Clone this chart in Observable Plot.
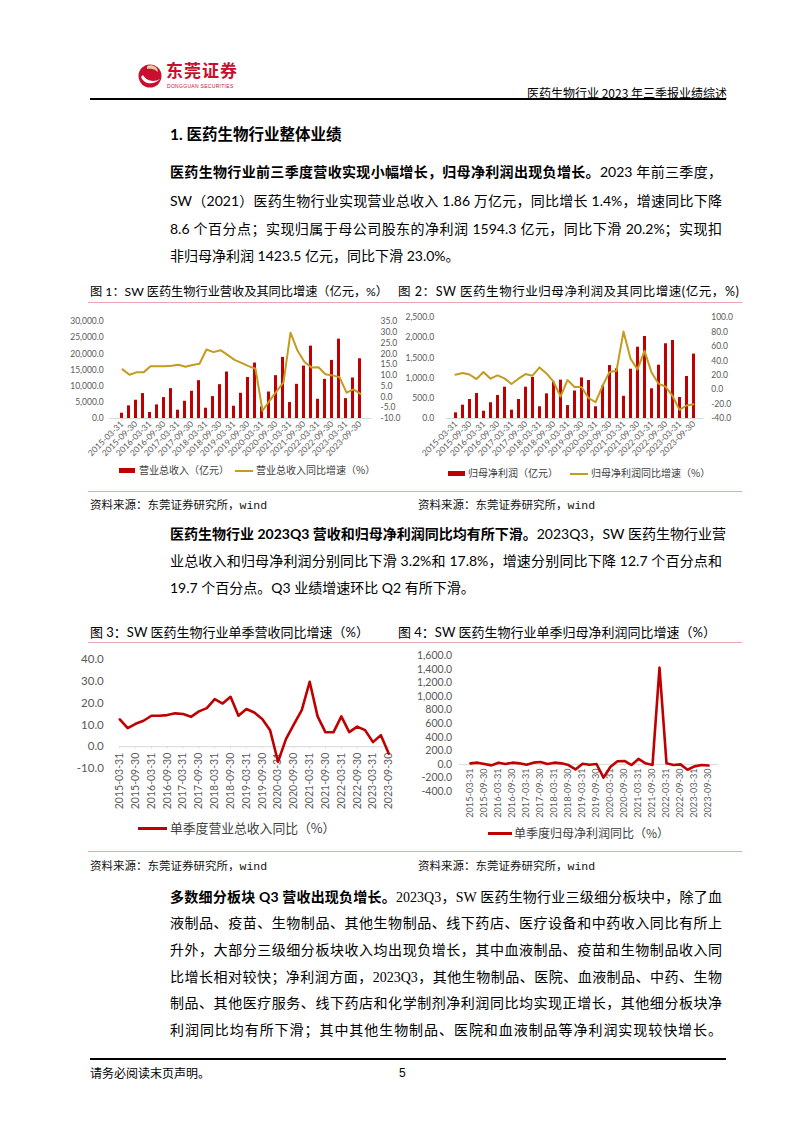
<!DOCTYPE html>
<html><head><meta charset="utf-8">
<script src="https://cdn.jsdelivr.net/npm/d3@7"></script>
<script src="https://cdn.jsdelivr.net/npm/@observablehq/plot@0.6"></script>
<style>
html,body{margin:0;padding:0;background:#fff;}
body{position:relative;width:802px;height:1133px;overflow:hidden;font-family:"Lato","Noto Sans CJK SC",sans-serif;color:#000;}
.a{position:absolute;white-space:nowrap;}
.ln{position:absolute;left:170px;width:552px;font-size:14px;line-height:20px;white-space:nowrap;text-align:justify;text-align-last:justify;}
.ln.last{text-align-last:left;}
.b{font-weight:700;font-family:"Lato","Noto Sans CJK SC",sans-serif;}
.serif{font-family:"Liberation Serif","Noto Sans CJK SC",serif;}
.cap{position:absolute;font-size:12.5px;line-height:18px;white-space:nowrap;}
.src{position:absolute;font-size:11.5px;line-height:16px;white-space:nowrap;color:#111;}
.mono{font-family:"Liberation Mono","DejaVu Sans Mono",monospace;}
.pink{position:absolute;height:0;border-top:1.5px solid #e7a9ad;}
.leg{position:absolute;font-size:10px;line-height:12px;color:#404040;white-space:nowrap;font-family:"Noto Sans CJK SC",sans-serif;}
</style></head>
<body>
<script>
// ---------------- DATA ----------------
const quarters = ["2015-03-31","2015-06-30","2015-09-30","2015-12-31",
"2016-03-31","2016-06-30","2016-09-30","2016-12-31",
"2017-03-31","2017-06-30","2017-09-30","2017-12-31",
"2018-03-31","2018-06-30","2018-09-30","2018-12-31",
"2019-03-31","2019-06-30","2019-09-30","2019-12-31",
"2020-03-31","2020-06-30","2020-09-30","2020-12-31",
"2021-03-31","2021-06-30","2021-09-30","2021-12-31",
"2022-03-31","2022-06-30","2022-09-30","2022-12-31",
"2023-03-31","2023-06-30","2023-09-30"];
const labelQuarters = ["2015-03-31","2015-09-30","2016-03-31","2016-09-30","2017-03-31","2017-09-30",
"2018-03-31","2018-09-30","2019-03-31","2019-09-30","2020-03-31","2020-09-30","2021-03-31",
"2021-09-30","2022-03-31","2022-09-30","2023-03-31","2023-09-30"];
// 营业总收入（亿元，累计）
const revenue = [1640,3900,5650,7700, 1850,4200,6470,9240, 2570,5340,8420,11700, 3180,6780,10470,14370,
 3800,7800,12700,17150, 3600,8200,13250,18900, 4930,10570,16220,22380, 5950,12100,17970,24540, 6160,12530,18480];
// 营业总收入同比增速（%）
const revenueYoY = [12.8,10.3,11.4,11.4, 14.2,14.2,14.2,14.5, 14.9,14.0,14.8,15.4, 22.0,20.8,21.7,19.5,
 17.2,15.8,14.3,13.1, -6.4,-1.8,2.6,6.8, 29.8,21.5,16.2,13.7, 13.8,10.5,10.0,9.2, 2.0,3.5,1.4];
// 归母净利润（亿元，累计）
const profit = [140,330,470,620, 180,390,570,775, 206,470,775,1015, 290,610,900,950,
 320,680,1005,940, 290,800,1310,1230, 550,1220,1765,2030, 735,1320,1850,1930, 520,1040,1594];
// 归母净利润同比增速（%）
const profitYoY = [20.7,23.0,21.0,14.7, 24.4,15.2,19.8,15.6, 7.8,15.2,21.6,19.3, 30.8,22.5,11.0,-9.7,
 13.3,3.7,3.7,-11.5, -17.5,5.0,24.4,26.2, 80.5,43.0,28.0,53.8, 24.0,8.3,4.1,-8.7, -28.0,-22.0,-20.2];
// 单季度营业总收入同比（%）
const qRevenueYoY = [12.5,8.5,10.5,11.9, 14.2,14.2,14.5,15.3, 15.0,13.7,16.2,17.7, 21.8,19.8,22.9,14.2,
 17.3,15.7,12.7,7.5, -6.9,3.5,10.2,16.8, 29.8,13.9,6.6,6.6, 13.9,6.7,9.2,7.6, 2.1,5.3,-3.2];
// 单季度归母净利润同比（%）
const qProfitYoY = [15,25,5,-15, 25,5,25,15, -5,25,35,5, 25,15,-10,-75,
 10,-5,5,-195, -35,45,50,-10, 80,15,-10,1425, 15,-10,0,-80, -30,-10,-17.8];

const revTicks = [0,5000,10000,15000,20000,25000,30000];
const revYoYTicks = [-10,-5,0,5,10,15,20,25,30,35];
const profitTicks = [0,500,1000,1500,2000,2500];
const profitYoYTicks = [-40,-20,0,20,40,60,80,100];
const qRevTicks = [-10,0,10,20,30,40];
const qProfitTicks = [-400,-200,0,200,400,600,800,1000,1200,1400,1600];

const rows = quarters.map((q,i)=>({q, revenue:revenue[i], revenueYoY:revenueYoY[i], profit:profit[i],
  profitYoY:profitYoY[i], qRevenueYoY:qRevenueYoY[i], qProfitYoY:qProfitYoY[i]}));

const fmt1 = d => (d<0?"-":"") + d3.format(",.1f")(Math.abs(d));
const RED = "#C00000", GOLD = "#C39B1F", GREY = "#595959";
const FONT = "Lato, 'Noto Sans CJK SC', sans-serif";

function place(el, left, top){
  el.style.position = "absolute"; el.style.left = left+"px"; el.style.top = top+"px";
  document.body.appendChild(el);
}
const baseStyle = {background:"none", fontFamily:FONT, overflow:"visible"};

// ---------------- Chart 1 ----------------
place(Plot.plot({
  width:345, height:160, marginLeft:49.25, marginRight:33.25, marginTop:16, marginBottom:47,
  style:baseStyle,
  x:{type:"band", domain:quarters, paddingInner:0.55, paddingOuter:0.275},
  y:{domain:[0,30000]},
  marks:[
    Plot.barY(rows, {x:"q", y:"revenue", fill:RED}),
    Plot.ruleY([0], {stroke:"#d9d9d9"}),
    Plot.axisY({ticks:revTicks, tickFormat:fmt1, tickSize:0, tickPadding:6, fontSize:8.5, fill:GREY, label:null}),
    Plot.axisX({ticks:labelQuarters, tickRotate:-45, tickSize:3, tickPadding:1, stroke:"#d9d9d9", fill:GREY, fontSize:8.5, label:null})
  ]
}), 60, 305);
place(Plot.plot({
  width:345, height:160, marginLeft:53, marginRight:37, marginTop:16, marginBottom:47,
  style:baseStyle,
  x:{type:"point", domain:quarters, padding:0, axis:null},
  y:{domain:[-10,35]},
  marks:[
    Plot.line(rows, {x:"q", y:"revenueYoY", stroke:GOLD, strokeWidth:2}),
    Plot.axisY({anchor:"right", ticks:revYoYTicks, tickFormat:fmt1, tickSize:0, tickPadding:12, fontSize:8.5, fill:GREY, label:null})
  ]
}), 60, 305);

// ---------------- Chart 2 ----------------
place(Plot.plot({
  width:345, height:160, marginLeft:40.6, marginRight:46.6, marginTop:12, marginBottom:47,
  style:baseStyle,
  x:{type:"band", domain:quarters, paddingInner:0.55, paddingOuter:0.275},
  y:{domain:[0,2500]},
  marks:[
    Plot.barY(rows, {x:"q", y:"profit", fill:RED}),
    Plot.ruleY([0], {stroke:"#d9d9d9"}),
    Plot.axisY({ticks:profitTicks, tickFormat:fmt1, tickSize:0, tickPadding:12, fontSize:8.5, fill:GREY, label:null}),
    Plot.axisX({ticks:labelQuarters, tickRotate:-45, tickSize:3, tickPadding:1, stroke:"#d9d9d9", fill:GREY, fontSize:8.5, label:null})
  ]
}), 405, 305);
place(Plot.plot({
  width:345, height:160, marginLeft:44.3, marginRight:50.3, marginTop:12, marginBottom:47,
  style:baseStyle,
  x:{type:"point", domain:quarters, padding:0, axis:null},
  y:{domain:[-40,100]},
  marks:[
    Plot.line(rows, {x:"q", y:"profitYoY", stroke:GOLD, strokeWidth:2}),
    Plot.axisY({anchor:"right", ticks:profitYoYTicks, tickFormat:fmt1, tickSize:0, tickPadding:11, fontSize:8.5, fill:GREY, label:null})
  ]
}), 405, 305);

// ---------------- Chart 3 ----------------
place(Plot.plot({
  width:345, height:175, marginLeft:59.3, marginRight:16.7, marginTop:14, marginBottom:52,
  style:baseStyle,
  x:{type:"point", domain:quarters, padding:0, axis:null},
  y:{domain:[-10,40]},
  marks:[
    Plot.ruleY([0], {stroke:"#d9d9d9"}),
    Plot.ruleX(labelQuarters, {x:d=>d, y1:d=>0, y2:d=>-1, stroke:"#d9d9d9"}),
    Plot.text(labelQuarters, {x:d=>d, y:d=>0, text:d=>d, rotate:-90, textAnchor:"end", dy:6, fontSize:10.5, fill:GREY}),
    Plot.line(rows, {x:"q", y:"qRevenueYoY", stroke:RED, strokeWidth:2.6}),
    Plot.axisY({ticks:qRevTicks, tickFormat:fmt1, tickSize:0, tickPadding:16, fontSize:11.5, fill:GREY, label:null})
  ]
}), 60, 645);

// ---------------- Chart 4 ----------------
place(Plot.plot({
  width:345, height:180, marginLeft:53.7, marginRight:31.7, marginTop:10.3, marginBottom:34,
  style:baseStyle,
  x:{type:"point", domain:quarters, padding:0, axis:null},
  y:{domain:[-400,1600]},
  marks:[
    Plot.ruleY([0], {stroke:"#d9d9d9"}),
    Plot.ruleX(labelQuarters, {x:d=>d, y1:d=>0, y2:d=>-30, stroke:"#d9d9d9"}),
    Plot.text(labelQuarters, {x:d=>d, y:d=>0, text:d=>d, rotate:-90, textAnchor:"end", dy:4, fontSize:9.2, fill:GREY}),
    Plot.line(rows, {x:"q", y:"qProfitYoY", stroke:RED, strokeWidth:2.6}),
    Plot.axisY({ticks:qProfitTicks, tickFormat:fmt1, tickSize:0, tickPadding:7, fontSize:10.5, fill:GREY, label:null})
  ]
}), 405, 645);
</script>

<!-- header -->
<svg class="a" style="left:138px;top:60px" width="26" height="32" viewBox="0 0 26 32">
  <circle cx="12" cy="16" r="11.5" fill="#C8102E"/>
  <path d="M3 17 C6 24, 15 26, 22 19 C17 22, 9 22, 5 15 Z" fill="#fff"/>
  <path d="M9 6 C14 4, 20 7, 20 12 C17 9, 13 8, 9 9 Z" fill="#e8c9a0"/>
</svg>
<div class="a" style="left:166px;top:59px;font-size:17px;line-height:22px;color:#C8102E;font-weight:700;letter-spacing:1px;font-family:'Noto Sans CJK SC'">东莞证券</div>
<div class="a" style="left:167px;top:83px;font-size:5px;line-height:6px;color:#C8102E;letter-spacing:0.3px;font-family:'Liberation Sans'">DONGGUAN SECURITIES</div>
<div class="a" style="left:527px;top:84px;font-size:12px;line-height:18px;font-family:'Noto Sans CJK SC'">医药生物行业 2023 年三季报业绩综述</div>
<div class="a" style="left:90px;top:98px;width:636px;height:0;border-top:2px solid #000"></div>

<!-- title -->
<div class="a b" style="left:170px;top:123px;font-size:15.5px;line-height:22px;">1. 医药生物行业整体业绩</div>

<!-- paragraph 1 -->
<div class="ln" style="top:162px"><span class="b">医药生物行业前三季度营收实现小幅增长，归母净利润出现负增长。</span>2023 年前三季度，</div>
<div class="ln" style="top:191px">SW（2021）医药生物行业实现营业总收入 1.86 万亿元，同比增长 1.4%，增速同比下降</div>
<div class="ln" style="top:219px">8.6 个百分点；实现归属于母公司股东的净利润 1594.3 亿元，同比下滑 20.2%；实现扣</div>
<div class="ln last" style="top:246px">非归母净利润 1423.5 亿元，同比下滑 23.0%。</div>

<!-- captions 1/2 -->
<div class="cap" style="left:90px;top:283px;font-size:12.2px">图 1：SW 医药生物行业营收及其同比增速（亿元，%）</div>
<div class="cap" style="left:398px;top:283px;letter-spacing:0.55px">图 2：SW 医药生物行业归母净利润及其同比增速(亿元，%)</div>
<div class="pink" style="left:88px;top:302px;width:654px"></div>

<!-- legends 1/2 -->
<div class="a" style="left:119px;top:468px;width:16px;height:5px;background:#C00000"></div>
<div class="leg" style="left:139px;top:464px">营业总收入（亿元）</div>
<div class="a" style="left:235px;top:469.5px;width:18px;height:2px;background:#C39B1F"></div>
<div class="leg" style="left:256px;top:464px">营业总收入同比增速（%）</div>
<div class="a" style="left:448px;top:471px;width:17px;height:5px;background:#C00000"></div>
<div class="leg" style="left:468px;top:467px">归母净利润（亿元）</div>
<div class="a" style="left:570px;top:472.5px;width:18px;height:2px;background:#C39B1F"></div>
<div class="leg" style="left:591px;top:467px">归母净利润同比增速（%）</div>

<div class="pink" style="left:88px;top:491px;width:654px"></div>
<div class="src" style="left:90px;top:497px">资料来源：东莞证券研究所，<span class="mono">wind</span></div>
<div class="src" style="left:418px;top:497px">资料来源：东莞证券研究所，<span class="mono">wind</span></div>

<!-- paragraph 2 -->
<div class="ln" style="top:524px"><span class="b">医药生物行业 2023Q3 营收和归母净利润同比均有所下滑。</span>2023Q3，SW 医药生物行业营</div>
<div class="ln" style="top:551px">业总收入和归母净利润分别同比下滑 3.2%和 17.8%，增速分别同比下降 12.7 个百分点和</div>
<div class="ln last" style="top:578px">19.7 个百分点。Q3 业绩增速环比 Q2 有所下滑。</div>

<!-- captions 3/4 -->
<div class="cap" style="left:90px;top:623px;font-size:13px">图 3：SW 医药生物行业单季营收同比增速（%）</div>
<div class="cap" style="left:398px;top:623px;font-size:13px">图 4：SW 医药生物行业单季归母净利润同比增速（%）</div>
<div class="pink" style="left:88px;top:642px;width:654px"></div>

<!-- legends 3/4 -->
<div class="a" style="left:138px;top:826.5px;width:29px;height:3px;background:#C00000"></div>
<div class="a" style="left:170px;top:819px;font-size:12.8px;line-height:18px;color:#404040;font-family:'Noto Sans CJK SC'">单季度营业总收入同比（%）</div>
<div class="a" style="left:488px;top:831.5px;width:24px;height:3px;background:#C00000"></div>
<div class="a" style="left:514px;top:824px;font-size:12px;line-height:18px;color:#404040;font-family:'Noto Sans CJK SC'">单季度归母净利润同比（%）</div>

<div class="pink" style="left:88px;top:851px;width:654px"></div>
<div class="src" style="left:90px;top:858px">资料来源：东莞证券研究所，<span class="mono">wind</span></div>
<div class="src" style="left:418px;top:858px">资料来源：东莞证券研究所，<span class="mono">wind</span></div>

<!-- paragraph 3 -->
<div class="ln serif" style="top:887px"><span class="b">多数细分板块 Q3 营收出现负增长。</span>2023Q3，SW 医药生物行业三级细分板块中，除了血</div>
<div class="ln serif" style="top:914px">液制品、疫苗、生物制品、其他生物制品、线下药店、医疗设备和中药收入同比有所上</div>
<div class="ln serif" style="top:941px">升外，大部分三级细分板块收入均出现负增长，其中血液制品、疫苗和生物制品收入同</div>
<div class="ln serif" style="top:968px">比增长相对较快；净利润方面，2023Q3，其他生物制品、医院、血液制品、中药、生物</div>
<div class="ln serif" style="top:994px">制品、其他医疗服务、线下药店和化学制剂净利润同比均实现正增长，其他细分板块净</div>
<div class="ln serif" style="top:1021px">利润同比均有所下滑；其中其他生物制品、医院和血液制品等净利润实现较快增长。</div>

<!-- footer -->
<div class="a" style="left:90px;top:1058px;width:636px;height:0;border-top:2px solid #000"></div>
<div class="a" style="left:90px;top:1064px;font-size:12px;line-height:18px;font-family:'Noto Sans CJK SC'">请务必阅读末页声明。</div>
<div class="a" style="left:399px;top:1064px;font-size:12px;line-height:18px;font-family:'Liberation Sans'">5</div>
</body></html>
